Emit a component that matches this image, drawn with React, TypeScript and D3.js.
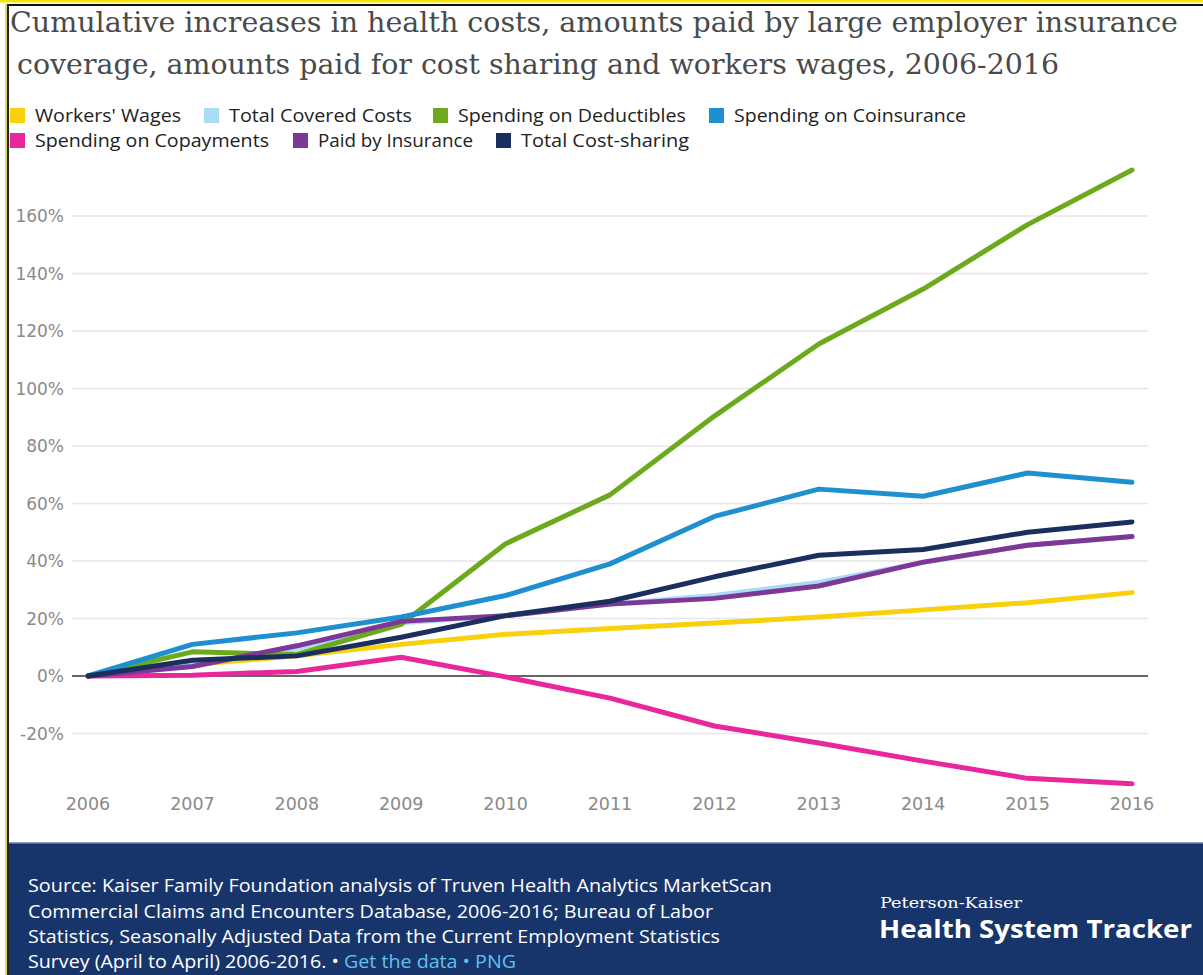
import React from "react";
import * as d3 from "d3";

const years = [2006, 2007, 2008, 2009, 2010, 2011, 2012, 2013, 2014, 2015, 2016];
const workersWages = [0, 4, 7, 11, 14.5, 16.5, 18.4, 20.5, 23, 25.5, 29];
const totalCoveredCosts = [0, 4, 9.5, 18.5, 21, 25, 28, 32.5, 39.5, 45.5, 48.5];
const spendingDeductibles = [0, 8.4, 7.5, 18, 46, 63, 90.4, 115.5, 134.6, 157, 176];
const spendingCoinsurance = [0, 11, 15, 20.5, 28, 39, 55.5, 65, 62.5, 70.6, 67.4];
const spendingCopayments = [0, 0.3, 1.6, 6.5, -0.3, -7.7, -17.4, -23.3, -29.6, -35.6, -37.5];
const paidByInsurance = [0, 3.3, 10.5, 19, 21, 25, 27, 31.3, 39.6, 45.5, 48.5];
const totalCostSharing = [0, 5.5, 7, 13.5, 21, 26, 34.5, 42, 44, 50, 53.6];

const seriesNames = [
  "Workers' Wages",
  "Total Covered Costs",
  "Spending on Deductibles",
  "Spending on Coinsurance",
  "Spending on Copayments",
  "Paid by Insurance",
  "Total Cost-sharing",
];
const seriesValues = [
  workersWages,
  totalCoveredCosts,
  spendingDeductibles,
  spendingCoinsurance,
  spendingCopayments,
  paidByInsurance,
  totalCostSharing,
];
const seriesColors = ["#f8d10c", "#a9dbf4", "#6aaa1c", "#1e90d0", "#e8279b", "#7d3796", "#1b2f5f"];
const yTicks = [-20, 0, 20, 40, 60, 80, 100, 120, 140, 160];

const titleLines = [
  "Cumulative increases in health costs, amounts paid by large employer insurance",
  "coverage, amounts paid for cost sharing and workers wages, 2006-2016",
];
const sourceLines = [
  "Source: Kaiser Family Foundation analysis of Truven Health Analytics MarketScan",
  "Commercial Claims and Encounters Database, 2006-2016; Bureau of Labor",
  "Statistics, Seasonally Adjusted Data from the Current Employment Statistics",
];

// layout
const W = 1203;
const H = 975;
const legendRows = [
  [0, 1, 2, 3],
  [4, 5, 6],
];
const legendX = [
  [10, 204, 433, 709],
  [10, 293, 496],
];
const legendTextW = [146, 183, 228, 232, 234, 155, 168];
const sourceW = [744, 685, 692];

export default function App() {
  const x = d3.scaleLinear().domain([2006, 2016]).range([88, 1132]);
  const y = d3.scaleLinear().domain([0, 160]).range([676, 216]);
  const line = d3
    .line<number>()
    .x((_, i) => x(years[i]))
    .y((v) => y(v));

  const sans = "'Open Sans', Lato, sans-serif";
  const tickFont = "'DejaVu Sans', sans-serif";

  return (
    <svg
      width={W}
      height={H}
      style={{ position: "absolute", left: 0, top: 0, display: "block" }}
      xmlns="http://www.w3.org/2000/svg"
    >
      <rect x={0} y={0} width={W} height={H} fill="#ffffff" />
      {/* frame */}
      <rect x={0} y={0} width={W} height={2.5} fill="#f3e500" />
      <rect x={8} y={4} width={W - 8} height={2} fill="#111" />
      <rect x={7} y={4} width={2} height={H} fill="#222" />
      <rect x={5} y={4} width={2} height={H} fill="#c8c000" opacity={0.6} />

      {/* title */}
      {titleLines.map((t, i) => (
        <text
          key={i}
          x={i === 0 ? 10 : 17}
          y={i === 0 ? 32 : 74}
          fontFamily="'DejaVu Serif', serif"
          fontSize={28}
          fill="#4a4a4a"
          textLength={i === 0 ? 1168 : 1042}
          lengthAdjust="spacingAndGlyphs"
        >
          {t}
        </text>
      ))}

      {/* legend */}
      {legendRows.map((row, r) =>
        row.map((si, k) => {
          const lx = legendX[r][k];
          const cy = 116 + r * 25;
          return (
            <g key={si}>
              <rect x={lx} y={cy - 8} width={15} height={15} fill={seriesColors[si]} />
              <text
                x={lx + 25}
                y={cy + 6}
                fontFamily={sans}
                fontSize={18}
                fill="#222"
                textLength={legendTextW[si]}
                lengthAdjust="spacingAndGlyphs"
              >
                {seriesNames[si]}
              </text>
            </g>
          );
        })
      )}

      {/* grid */}
      {yTicks.map((t) => (
        <g key={t}>
          <line
            x1={72}
            x2={1148}
            y1={y(t)}
            y2={y(t)}
            stroke={t === 0 ? "#333" : "#e6e6e6"}
            strokeWidth={1.5}
          />
          <text
            x={64}
            y={y(t) + 6}
            textAnchor="end"
            fontFamily={tickFont}
            fontSize={17}
            fill="#8a8a8a"
          >
            {t}%
          </text>
        </g>
      ))}
      {years.map((yr) => (
        <text
          key={yr}
          x={x(yr)}
          y={810}
          textAnchor="middle"
          fontFamily={tickFont}
          fontSize={17.5}
          fill="#8a8a8a"
        >
          {yr}
        </text>
      ))}

      {/* lines */}
      {seriesValues.map((vals, i) => (
        <path
          key={i}
          d={line(vals) || ""}
          fill="none"
          stroke={seriesColors[i]}
          strokeWidth={5}
          strokeLinejoin="round"
          strokeLinecap="round"
        />
      ))}

      {/* footer */}
      <rect x={9} y={842} width={W - 9} height={H - 842} fill="#18356b" />
      <rect x={9} y={842} width={W - 9} height={1.5} fill="#8aa2c8" />
      {sourceLines.map((t, i) => (
        <text
          key={i}
          x={28}
          y={892 + i * 25.5}
          fontFamily={sans}
          fontSize={17.5}
          fill="#ffffff"
          textLength={sourceW[i]}
          lengthAdjust="spacingAndGlyphs"
        >
          {t}
        </text>
      ))}
      <text
        x={28}
        y={968}
        fontFamily={sans}
        fontSize={17.5}
        fill="#ffffff"
        textLength={488}
        lengthAdjust="spacingAndGlyphs"
      >
        Survey (April to April) 2006-2016. •{" "}
        <tspan fill="#5fc3ee">Get the data • PNG</tspan>
      </text>
      <text
        x={880}
        y={908}
        fontFamily="'DejaVu Serif', serif"
        fontSize={15.5}
        fill="#ffffff"
        textLength={142}
        lengthAdjust="spacingAndGlyphs"
      >
        Peterson-Kaiser
      </text>
      <text
        x={879}
        y={938}
        fontFamily="'Open Sans', sans-serif"
        fontWeight={700}
        fontSize={25}
        fill="#ffffff"
        textLength={313}
        lengthAdjust="spacingAndGlyphs"
      >
        Health System Tracker
      </text>
    </svg>
  );
}
